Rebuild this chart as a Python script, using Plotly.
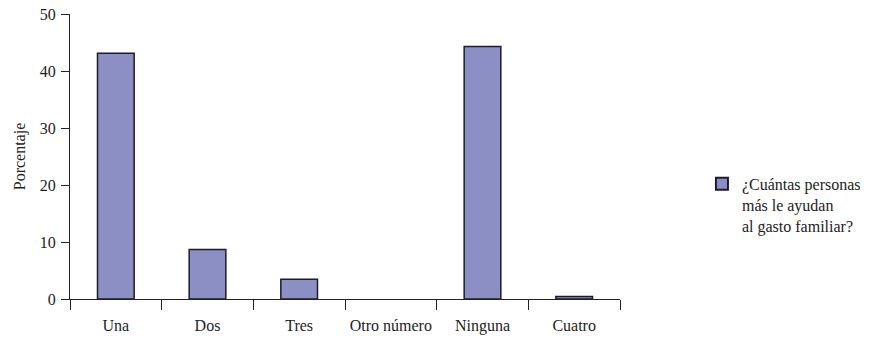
import plotly.graph_objects as go

categorias = ["Una", "Dos", "Tres", "Otro número", "Ninguna", "Cuatro"]
porcentajes = [43.1, 8.7, 3.45, 0.0, 44.3, 0.45]
serie = "¿Cuántas personas<br>más le ayudan<br>al gasto familiar?"
y_ticks = [0, 10, 20, 30, 40, 50]

fuente = "'Liberation Serif', 'Times New Roman', serif"

# no outline on empty categories
bordes = [1.5 if v > 0 else 0 for v in porcentajes]

fig = go.Figure(
    go.Bar(
        x=categorias,
        y=porcentajes,
        name=serie,
        width=0.4,
        marker=dict(color="#8b8fc4", line=dict(color="#1c1c2c", width=bordes)),
        showlegend=True,
    )
)

fig.update_layout(
    width=885,
    height=344,
    margin=dict(l=70, r=265, t=14, b=45),
    paper_bgcolor="white",
    plot_bgcolor="white",
    font=dict(family=fuente, size=16, color="#222222"),
    legend=dict(
        x=1.149, y=0.33, xanchor="left", yanchor="middle",
        valign="top", font=dict(size=16, family=fuente),
        itemsizing="constant",
    ),
    bargap=0.6,
)

fig.update_xaxes(
    type="category",
    tickson="boundaries",
    ticks="outside",
    ticklen=10,
    tickcolor="#222222",
    showline=True,
    linecolor="#222222",
    linewidth=1,
    showgrid=False,
    automargin=False,
    ticklabelstandoff=12,
)
fig.update_yaxes(
    range=[0, 50],
    tickvals=y_ticks,
    ticks="outside",
    ticklen=8,
    tickcolor="#222222",
    showline=True,
    linecolor="#222222",
    linewidth=1,
    showgrid=False,
    zeroline=False,
    automargin=False,
    ticklabelstandoff=2,
    title=dict(text="Porcentaje", standoff=10, font=dict(size=16)),
)

fig.write_html("out.html")
